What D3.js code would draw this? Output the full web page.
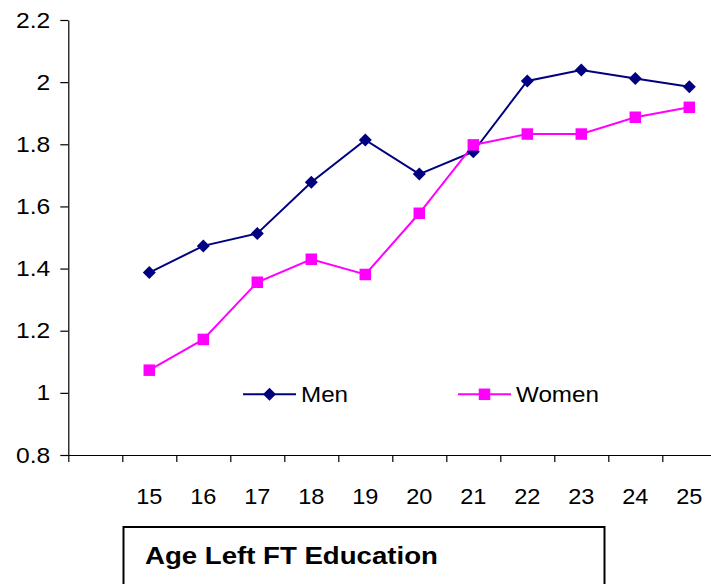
<!DOCTYPE html>
<html>
<head>
<meta charset="utf-8">
<script src="https://cdn.jsdelivr.net/npm/d3@7"></script>
<style>
  html, body { margin: 0; padding: 0; background: #fff; }
  svg { display: block; font-family: "Liberation Sans", Arial, sans-serif; }
</style>
</head>
<body>
<svg id="chart" width="711" height="584"></svg>
<script>
// Category slots along the x axis; the first slot is left empty.
const categories = ["", "15", "16", "17", "18", "19", "20", "21", "22", "23", "24", "25"];
const ages = ["15", "16", "17", "18", "19", "20", "21", "22", "23", "24", "25"];
const men   = [1.387, 1.473, 1.513, 1.678, 1.814, 1.704, 1.776, 2.004, 2.039, 2.012, 1.985];
const women = [1.073, 1.172, 1.356, 1.430, 1.381, 1.578, 1.798, 1.833, 1.833, 1.887, 1.919];
const yTicks = [0.8, 1, 1.2, 1.4, 1.6, 1.8, 2, 2.2];
const seriesNames = ["Men", "Women"];
const xTitle = "Age Left FT Education";

const svg = d3.select("#chart");
const plotLeft = 68.3, plotTop = 20, plotBottom = 455;
const step = 54;

const x = d3.scaleBand().domain(categories).range([plotLeft, plotLeft + step * categories.length]).padding(0);
const xEdge = d3.scaleLinear().domain([0, categories.length]).range([plotLeft, plotLeft + step * categories.length]);
const y = d3.scaleLinear().domain([0.8, 2.2]).range([plotBottom, plotTop]);
const cx = c => x(c) + x.bandwidth() / 2;

// widen glyphs slightly, as the chart's text is drawn
function stretch(sel, k) {
  sel.each(function () {
    const w = this.getComputedTextLength();
    d3.select(this).attr("textLength", w * k).attr("lengthAdjust", "spacingAndGlyphs");
  });
}

// y axis
const yAxis = svg.append("g")
  .attr("transform", `translate(${plotLeft},0)`)
  .call(d3.axisLeft(y).tickValues(yTicks).tickSize(8).tickSizeOuter(0).tickPadding(10)
    .tickFormat(d => String(+d.toFixed(1))));
yAxis.selectAll("path, line").attr("stroke", "#000").attr("stroke-width", 1.2);
yAxis.selectAll("text").attr("font-size", 22).attr("fill", "#000")
  .attr("font-family", "Liberation Sans, Arial, sans-serif");
stretch(yAxis.selectAll("text"), 1.12);

// x axis line with ticks at the category boundaries
const xAxis = svg.append("g")
  .attr("transform", `translate(0,${plotBottom})`)
  .call(d3.axisBottom(xEdge).tickValues(d3.range(categories.length + 1)).tickSize(7).tickSizeOuter(0).tickFormat(""));
xAxis.selectAll("path, line").attr("stroke", "#000").attr("stroke-width", 1.2);

// x category labels
const xLabels = svg.append("g")
  .attr("transform", `translate(0,${plotBottom})`)
  .call(d3.axisBottom(x).tickSize(0).tickPadding(33));
xLabels.select(".domain").remove();
xLabels.selectAll("text").attr("font-size", 22).attr("fill", "#000")
  .attr("font-family", "Liberation Sans, Arial, sans-serif");
stretch(xLabels.selectAll("text"), 1.07);

const line = d3.line().x((d, i) => cx(ages[i])).y(d => y(d));

const colors = { Men: "#000080", Women: "#FF00FF" };

// Men
svg.append("path").datum(men).attr("d", line)
  .attr("fill", "none").attr("stroke", colors.Men).attr("stroke-width", 2);
// Women
svg.append("path").datum(women).attr("d", line)
  .attr("fill", "none").attr("stroke", colors.Women).attr("stroke-width", 2);

function drawDiamond(g, px, py) {
  const r = 6.5;
  g.append("path")
    .attr("d", `M${px},${py - r}L${px + r},${py}L${px},${py + r}L${px - r},${py}Z`)
    .attr("fill", colors.Men);
}
function drawSquare(g, px, py) {
  const s = 11.5;
  g.append("rect").attr("x", px - s / 2).attr("y", py - s / 2)
    .attr("width", s).attr("height", s).attr("fill", colors.Women);
}

const markers = svg.append("g");
men.forEach((v, i) => drawDiamond(markers, cx(ages[i]), y(v)));
women.forEach((v, i) => drawSquare(markers, cx(ages[i]), y(v)));

// legend
const legend = svg.append("g");
const legY = 394.3;
const legItems = [
  { name: seriesNames[0], x0: 243, x1: 296, draw: drawDiamond },
  { name: seriesNames[1], x0: 458, x1: 511, draw: drawSquare }
];
legItems.forEach(it => {
  legend.append("line").attr("x1", it.x0).attr("x2", it.x1).attr("y1", legY).attr("y2", legY)
    .attr("stroke", colors[it.name]).attr("stroke-width", 2);
  it.draw(legend, (it.x0 + it.x1) / 2, legY);
  legend.append("text").attr("x", it.x1 + 5).attr("y", legY + 8)
    .attr("font-size", 22).attr("fill", "#000").text(it.name);
});
stretch(legend.selectAll("text"), 1.1);

// axis title box
svg.append("rect").attr("x", 123.5).attr("y", 527).attr("width", 481).attr("height", 80)
  .attr("fill", "#fff").attr("stroke", "#000").attr("stroke-width", 2);
const title = svg.append("text").attr("x", 145).attr("y", 564)
  .attr("font-size", 24).attr("font-weight", "bold").attr("fill", "#000").text(xTitle);
stretch(title, 1.15);
</script>
</body>
</html>
